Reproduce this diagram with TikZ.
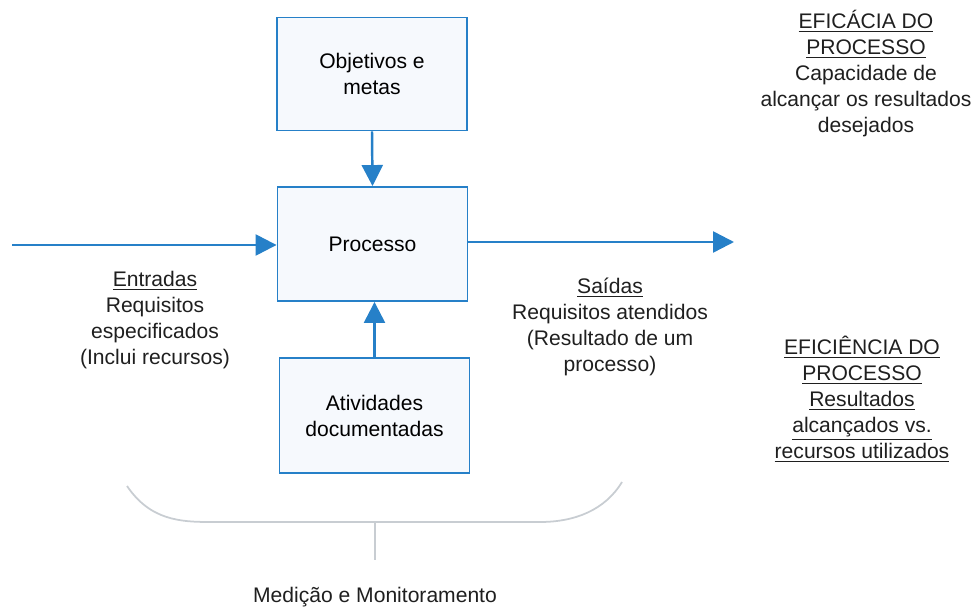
\documentclass[tikz,border=0pt]{standalone}
\usepackage{fontspec}
\setmainfont{Liberation Sans}
\usetikzlibrary{arrows.meta}
\definecolor{blu}{RGB}{38,128,200}
\definecolor{boxfill}{RGB}{246,249,253}
\definecolor{brc}{RGB}{200,205,210}
\begin{document}
\begin{tikzpicture}[x=0.02cm,y=-0.02cm,
  pbox/.style={draw=blu,line width=1.1pt,fill=boxfill,minimum width=3.8cm,minimum height=2.26cm,align=center,font=\fontsize{12}{14.8}\selectfont},
  conn/.style={draw=blu,line width=1.4pt,-{Triangle[length=4.2mm,width=4.2mm]}},
  lbl/.style={align=center,font=\fontsize{12}{14.8}\selectfont,text=black!88},
  brace/.style={draw=brc,line width=1pt}]
\useasboundingbox (0,0) rectangle (976,607);
\node[pbox] (obj) at (372,74) {Objetivos e\\metas};
\node[pbox,minimum height=2.28cm] (proc) at (372.5,244) {Processo};
\node[pbox,minimum height=2.3cm] (ativ) at (374.5,415.5) {Atividades\\documentadas};
\coordinate (inL) at (12,245);
\coordinate (outR) at (734,242);
\draw[conn] (obj.south) -- (proc.north);
\draw[conn] (ativ.north) -- (proc.south -| ativ.north);
\draw[conn] (inL) -- (inL -| proc.west);
\draw[conn] (proc.east |- outR) -- (outR);
\node[lbl] (ent) at (155,320) {\underline{Entradas}\\Requisitos\\especificados\\(Inclui recursos)};
\node[lbl] (sai) at (610,327) {\underline{Saídas}\\Requisitos atendidos\\(Resultado de um\\processo)};
\node[lbl] (efc) at (866,74) {\underline{EFICÁCIA DO}\\\underline{PROCESSO}\\Capacidade de\\alcançar os resultados\\desejados};
\node[lbl] (efi) at (862,399) {\underline{EFICIÊNCIA DO}\\\underline{PROCESSO}\\\underline{Resultados}\\\underline{alcançados vs.}\\\underline{recursos utilizados}};
\coordinate (bl) at (127,486);
\coordinate (br) at (622,482);
\coordinate (bm) at (375,522);
\coordinate (bt) at (375,560);
\draw[brace] (bl) .. controls (150,520) and (180,522) .. (210,522) -- (540,522) .. controls (575,522) and (605,510) .. (br);
\draw[brace] (bm) -- (bt);
\node[lbl] (med) at (375,597) {Medição e Monitoramento};
\end{tikzpicture}
\end{document}
